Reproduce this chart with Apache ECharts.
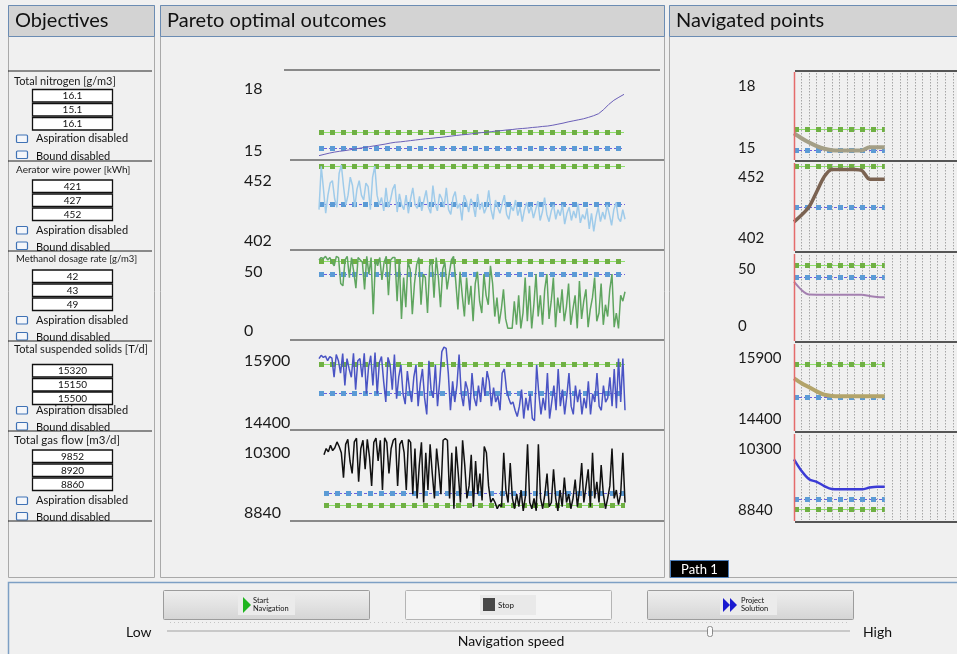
<!DOCTYPE html>
<html><head><meta charset="utf-8">
<script src="https://cdn.jsdelivr.net/npm/echarts@6/dist/echarts.min.js"></script>
<style>html,body{margin:0;padding:0;background:#f0f0f0}#c{width:957px;height:654px}</style>
</head><body><div id="c"></div>
<script>
// ---------------- DATA ----------------
const objectiveNames = ['Total nitrogen [g/m3]','Aerator wire power [kWh]','Methanol dosage rate [g/m3]','Total suspended solids [T/d]','Total gas flow [m3/d]'];
const objectiveBoxValues = [['16.1','15.1','16.1'],['421','427','452'],['42','43','49'],['15320','15150','15500'],['9852','8920','8860']];
const aspirationText = 'Aspiration disabled';
const boundText = 'Bound disabled';
const tickLabels = [[18,15],[452,402],[50,0],[15900,14400],[10300,8840]];

const paretoNitrogen = [14.76,14.82,14.88,14.93,14.97,15.0,15.04,15.08,15.12,15.16,15.2,15.24,15.28,15.32,15.37,15.41,15.43,15.46,15.49,15.52,15.55,15.58,15.6,15.63,15.65,15.68,15.71,15.74,15.77,15.79,15.82,15.85,15.88,15.9,15.93,15.96,15.98,16.01,16.03,16.06,16.08,16.1,16.13,16.15,16.18,16.2,16.24,16.29,16.34,16.4,16.45,16.5,16.55,16.62,16.7,16.8,17.0,17.25,17.45,17.6,17.74];
const paretoAerator = [428,464,445,425,440,450,452,437,430,458,465,447,432,440,455,448,430,445,452,440,436,450,447,428,455,464,440,432,438,427,446,430,436,445,449,426,441,432,428,440,425,437,446,432,429,439,427,436,444,430,425,448,433,427,441,437,430,446,428,424,438,443,429,433,419,440,435,426,437,432,422,441,428,434,425,430,444,428,420,436,430,425,433,440,424,420,431,427,436,423,430,418,428,434,425,431,421,428,435,419,426,438,424,418,427,432,420,428,423,432,416,425,430,419,427,421,433,417,424,420,429,412,425,410,422,430,418,426,420,432,424,415,428,434,421,418,428,420];
const paretoMethanol = [60,62,61,63,60,62,58,55,63,62,40,38,60,63,45,62,50,36,62,60,58,35,63,48,62,14,60,55,62,43,58,63,30,60,62,
  62,25,60,10,45,20,58,52,14,40,56,62,22,48,45,15,55,60,28,62,45,20,52,58,35,48,60,63,42,18,50,30,12,45,22,38,8,40,50,25,15,48,30,22,55,40,
  12,28,6,18,35,10,2,2,2,25,5,30,2,15,45,8,38,2,22,48,12,30,5,35,48,10,25,45,3,28,15,35,8,20,40,5,18,30,2,42,10,25,35,3,18,28,45,8,15,40,5,22,12,35,48,3,15,2,30,25,33];
const paretoSolids = [15950,16030,15980,16010,15900,16000,15960,15500,16050,15900,15600,16070,15300,15950,15700,15500,16080,15200,15900,15950,15500,16080,15100,15750,16020,15300,16100,15100,15850,16000,15400,14900,15980,15800,15200,16050,14980,15500,15800,15100,14850,
  15650,15200,14900,15500,15800,14800,15350,15700,15000,14600,15900,15200,15000,15800,14800,15400,16120,16230,16200,15600,14700,15400,14900,15300,16050,15100,14800,15400,15200,14700,15600,15000,14800,15300,14900,15500,15050,15650,15400,14800,15250,14900,15050,14700,15600,15700,15200,15000,14850,14900,14700,
  14550,14800,15200,14500,15000,14700,15100,14500,14450,15800,15100,14600,15000,14700,15600,14500,14900,15300,14700,15700,14800,15200,14600,15050,15600,14800,14600,15300,14900,15200,14600,15000,14750,15400,14600,15100,14900,15600,14800,14700,15300,14900,15000,15500,14800,15700,14750,15950,14900,15950,14700];
const paretoGas = [10250,10400,10320,10480,10350,10420,10560,10450,10300,9700,10500,10620,10100,9800,10560,10650,9600,10400,10600,9900,10620,10200,9500,10550,10650,10100,10600,9400,10660,10550,9800,10400,10600,10650,9500,10500,10600,10300,9400,10620,10550,
  9300,10400,9200,10000,10550,9100,10300,9400,10500,9800,9200,10400,9900,9300,10600,10640,10600,9200,10300,8950,10450,9800,9100,10600,10000,9200,9500,10250,9000,10100,9300,9800,9150,10450,10300,9500,9100,9200,9100,8950,9050,9000,
  10300,9400,9100,10050,9200,8950,9300,9000,9400,8900,9250,10500,9100,8950,9200,8900,10500,9200,8950,9300,9800,9000,9100,9900,9200,8900,9400,9000,9700,9100,9300,8950,9200,9650,9000,9400,10050,9100,9500,9900,9000,10300,9200,9600,9100,10000,9300,8950,9200,9500,10400,9200,9400,9050,9300,10300,9100];
const paretoAspiration = [15.92, 463.6, 59.1, 15820, 9040];
const paretoBound = [15.12, 432.7, 48, 15111, 9321];

const navNitrogen = [15.7,15.46,15.25,15.08,14.95,14.88,14.86,14.86,14.86,14.87,15.02,15.02,15.02];
const navAerator = [415,420.6,427.4,439.7,452,458,458,458,458,457,450,450,450];
const navMethanol = [38.9,31.6,27.6,27.5,27.5,27.5,27.5,27.5,27.5,27.4,26.3,25.4,25.2];
const navSolids = [15398,15280,15180,15080,15000,14970,14960,14960,14960,14960,14960,14960,14960];
const navGas = [10060,9780,9577,9519,9416,9344,9338,9338,9338,9338,9380,9401,9401];
const navAspiration = [15.905, 460.2, 53.5, 15747, 8864];
const navBound = [14.874, 427.2, 42.4, 14936, 9098];
const navSlots = 30;

const headers = ['Objectives','Pareto optimal outcomes','Navigated points'];
const buttonTexts = [['Start','Navigation'],['Stop'],['Project','Solution']];
const sliderTexts = ['Low','High','Navigation speed'];
const pathTab = 'Path 1';

// ---------------- LAYOUT ----------------
const FONT = 'Lato, "Noto Sans", sans-serif';
const midSeps = [70,160,250,340,430,521];
const midGridTB = [[71,159],[161,249],[251,339],[341,429],[431,520]];
const midLabelY = [[89,150.7],[180.7,241],[271.7,330.7],[360.7,422.7],[452.7,513.3]];
const midLeft = [319,319,319,319,324];
const midRight = [624,625,625,625,625];
const midLabelX = 244;
const navSeps = [71,161,252,342,432,522];
const navGridTB = [[73,158],[164,250],[255,340],[345,430],[435,520]];
const navRedTB = [[72,160],[163,251],[254,341],[344,431],[434,521]];
const navLabelY = [[85.7,147.7],[176.7,237.7],[269,326],[357.7,419.3],[449.3,510]];
const navLeft = 794, navStep = 7.56, navLabelX = 738;

const paretoData = [paretoNitrogen, paretoAerator, paretoMethanol, paretoSolids, paretoGas];
const paretoColors = ['#6b5fb8','#9fcbea','#5fa55f','#4a54c4','#111111'];
const paretoWidths = [1,1.5,1.5,1.5,1.5];
const navData = [navNitrogen, navAerator, navMethanol, navSolids, navGas];
const navColors = ['#a49f86','#7b6352','#a480b0','#b3a46a','#3b3bd6'];
const navWidths = [4,3.5,2,4,2.5];

function axisRange(hi, lo, yHi, yLo, top, bottom){
  const ppu = (yLo - yHi)/(hi - lo);
  return {max: hi + (yHi - top)/ppu, min: lo - (bottom - yLo)/ppu};
}
function levelLines(asp, bnd){
  return [
    {yAxis: asp, lineStyle:{color:'#8fe06c', width:1, type:'solid'}},
    {yAxis: asp, lineStyle:{color:'#6fb043', width:5, type:[5,6], cap:'butt'}},
    {yAxis: bnd, lineStyle:{color:'#6b5fe0', width:1, type:[3,2]}},
    {yAxis: bnd, lineStyle:{color:'#5b9bd5', width:5, type:[5,6], cap:'butt'}}
  ];
}
function levelPairs(asp, bnd, last){
  const mk = (v, ls) => [{xAxis:'0', yAxis:v, lineStyle:ls},{xAxis:String(last), yAxis:v, lineStyle:ls}];
  return [
    mk(asp,{color:'#8fe06c', width:1, type:'solid'}),
    mk(asp,{color:'#6fb043', width:5, type:[5,6], cap:'butt'}),
    mk(bnd,{color:'#6b5fe0', width:1, type:[3,2]}),
    mk(bnd,{color:'#5b9bd5', width:5, type:[5,6], cap:'butt'})
  ];
}

const grids = [], xAxes = [], yAxes = [], series = [];
for (let i = 0; i < 5; i++) {
  const [hi, lo] = tickLabels[i];
  const [t, b] = midGridTB[i];
  const r = axisRange(hi, lo, midLabelY[i][0], midLabelY[i][1], t, b);
  grids.push({left: midLeft[i], top: t, width: midRight[i]-midLeft[i], height: b-t, containLabel:false, outerBoundsMode:'none'});
  xAxes.push({type:'category', gridIndex: grids.length-1, boundaryGap:false, data: paretoData[i].map((_, k) => String(k)), show:false});
  yAxes.push({type:'value', gridIndex: grids.length-1, min:r.min, max:r.max, z:5,
    axisLine:{show:false}, axisTick:{show:false}, splitLine:{show:false},
    axisLabel:{customValues:[lo,hi], align:'left', margin: midLeft[i]-midLabelX, fontSize:16, color:'#1a1a1a', fontFamily:FONT, formatter: v => String(v)}});
  series.push({type:'line', xAxisIndex: xAxes.length-1, yAxisIndex: yAxes.length-1, data: paretoData[i],
    symbol:'none', showSymbol:false, clip:false, animation:false, z:3,
    lineStyle:{color:paretoColors[i], width:paretoWidths[i]},
    emphasis:{disabled:true},
    markLine:{silent:true, symbol:'none', animation:false, label:{show:false}, emphasis:{disabled:true}, z:2,
      data: levelLines(paretoAspiration[i], paretoBound[i])}});
}
for (let i = 0; i < 5; i++) {
  const [hi, lo] = tickLabels[i];
  const [t, b] = navGridTB[i];
  const r = axisRange(hi, lo, navLabelY[i][0], navLabelY[i][1], t, b);
  grids.push({left: navLeft, top: t, width: navStep*(navSlots-1), height: b-t, containLabel:false, outerBoundsMode:'none'});
  const cats = []; for (let k = 0; k < navSlots; k++) cats.push(String(k));
  xAxes.push({type:'category', gridIndex: grids.length-1, boundaryGap:false, data: cats,
    axisLine:{show:false}, axisTick:{show:false}, axisLabel:{show:false},
    splitLine:{show:true, interval:0, lineStyle:{color:'#a6a6a6', width:1, type:[1.5,1.5]}}});
  yAxes.push({type:'value', gridIndex: grids.length-1, min:r.min, max:r.max, z:5,
    axisLine:{show:false}, axisTick:{show:false}, splitLine:{show:false},
    axisLabel:{customValues:[lo,hi], align:'left', margin: navLeft-navLabelX, fontSize:15, color:'#1a1a1a', fontFamily:FONT, formatter: v => String(v)}});
  series.push({type:'line', xAxisIndex: xAxes.length-1, yAxisIndex: yAxes.length-1, data: navData[i],
    symbol:'none', showSymbol:false, clip:false, animation:false, z:3, smooth:0.3,
    lineStyle:{color:navColors[i], width:navWidths[i]},
    emphasis:{disabled:true},
    markLine:{silent:true, symbol:'none', animation:false, label:{show:false}, emphasis:{disabled:true}, z:2,
      data: levelPairs(navAspiration[i], navBound[i], navData[i].length-1)}});
}

// ---------------- GRAPHIC UI ----------------
const g = [];
function rect(x,y,w,h,fill,stroke,lw,r,z){ g.push({type:'rect', shape:{x,y,width:w,height:h,r:r||0}, style:{fill:fill||'none', stroke:stroke||null, lineWidth:lw||1}, z:z||1, silent:true}); }
function text(x,y,t,size,opts){ g.push({type:'text', x, y, style:Object.assign({text:t, fontSize:size, fontFamily:FONT, fill:'#111', verticalAlign:'middle', align:'left'}, opts||{}), z:20, silent:true}); }
function line(x1,y1,x2,y2,stroke,lw,dash){ g.push({type:'line', shape:{x1,y1,x2,y2}, style:{stroke, lineWidth:lw||1, lineDash:dash||null}, z:6, silent:true}); }
function poly(pts, fill){ g.push({type:'polygon', shape:{points:pts}, style:{fill}, z:8, silent:true}); }

// panels
const panelX = [[8.5,146],[160.5,504],[669.5,300]];
panelX.forEach(([x,w], k) => {
  rect(x,5.5,w,572,'none','#a9a9a9',1,0,1);
  rect(x,5.5,w,31,'#d3d3d3','#6b8cb3',1,0,2);
  text(x+6.5,21,headers[k],20,{fill:'#111'});
});
rect(8.5,582.5,960,80,'none','#7d9fc4',1.5,0,1);

// red start lines of navigated charts
navRedTB.forEach(([t,b]) => line(794.5,t,794.5,b,'#e56b6b',1.5));

// objectives panel
const leftSeps = [71,161,251,341,431,521];
leftSeps.forEach(y => line(8,y,152,y,'#222',1));
const secLayout = [
  {title:81, boxes:[89.5,103.5,117.5], asp:138.5, bnd:155, fs:11},
  {title:170, boxes:[180,194,208], asp:230, bnd:246, fs:10},
  {title:258.5, boxes:[270,284,298], asp:320, bnd:336.5, fs:9.5},
  {title:349.5, boxes:[364.5,378.5,392], asp:410, bnd:426.5, fs:11},
  {title:440, boxes:[450,464,478], asp:500.5, bnd:516.5, fs:11.5}
];
secLayout.forEach((s, k) => {
  text(k===0||k===3||k===4 ? 14 : 16, s.title, objectiveNames[k], s.fs, {fill:'#1a1a1a'});
  s.boxes.forEach((by, j) => {
    rect(32.5, by, 80, 12.5, '#ffffff', '#111', 1.3, 0, 3);
    text(72.5, by+6.6, objectiveBoxValues[k][j], 10, {align:'center', fill:'#111'});
  });
  rect(16.5, s.asp-3.5, 11, 7.5, '#f4f6fa', '#3f72b5', 1.2, 1, 3);
  text(36, s.asp, aspirationText, 11);
  rect(16.5, s.bnd-4, 11, 7.5, '#f4f6fa', '#3f72b5', 1.2, 1, 3);
  text(36, s.bnd+1, boundText, 11);
});

// pareto separators
midSeps.forEach((y, k) => line(k===0?284:290, y, k===0?660:664, y, '#222', 1.2));
// navigated separators
navSeps.forEach(y => line(795, y, 957, y, '#222', 1.5));

// path tab
rect(670.5,560.5,58,17,'#000000','#4c7db8',1,0,4);
text(699.5,569.5,pathTab,13,{fill:'#ffffff', align:'center'});

// buttons
const btnGrad = () => new echarts.graphic.LinearGradient(0,0,0,1,[{offset:0,color:'#eeeeee'},{offset:0.5,color:'#e2e2e2'},{offset:1,color:'#d4d4d4'}]);
g.push({type:'rect', shape:{x:163.5,y:590.5,width:206,height:29,r:1}, style:{fill:btnGrad(), stroke:'#9c9c9c', lineWidth:1}, z:3, silent:true});
g.push({type:'rect', shape:{x:405.5,y:590.5,width:206,height:29,r:1}, style:{fill:'#f4f4f4', stroke:'#b4b4b4', lineWidth:1}, z:3, silent:true});
g.push({type:'rect', shape:{x:647.5,y:590.5,width:206,height:29,r:1}, style:{fill:btnGrad(), stroke:'#9c9c9c', lineWidth:1}, z:3, silent:true});
rect(238,595,57,20,'#ebebeb',null,1,0,4);
rect(480,595,56,20,'#e9e9e9',null,1,0,4);
rect(720,595,57,20,'#ebebeb',null,1,0,4);
poly([[243,597],[251,605],[243,613]],'#1fb51f');
text(253,600.5,buttonTexts[0][0],7.5);
text(253,608.5,buttonTexts[0][1],7.5);
rect(483,598,12,13,'#474747',null,1,0,8);
text(498,605,buttonTexts[1][0],8);
poly([[723,598],[730,605],[723,612]],'#1b1bd0');
poly([[730,598],[737,605],[730,612]],'#1b1bd0');
text(741,600.5,buttonTexts[2][0],7.5);
text(741,608.5,buttonTexts[2][1],7.5);

// slider
line(170,622.5,848,622.5,'#c4c4c4',1,[1,3]);
line(167,631,850,631,'#c9c9c9',2);
rect(707.5,626.5,5,10,'#fafafa','#8a8a8a',1,2,9);
text(126,632,sliderTexts[0],14);
text(863,632,sliderTexts[1],14);
text(511,641,sliderTexts[2],14,{align:'center'});

const chart = echarts.init(document.getElementById('c'), null, {width:957, height:654});
chart.setOption({
  backgroundColor:'#f0f0f0',
  animation:false,
  grid: grids, xAxis: xAxes, yAxis: yAxes, series: series,
  graphic: {elements: g}
});
</script></body></html>
